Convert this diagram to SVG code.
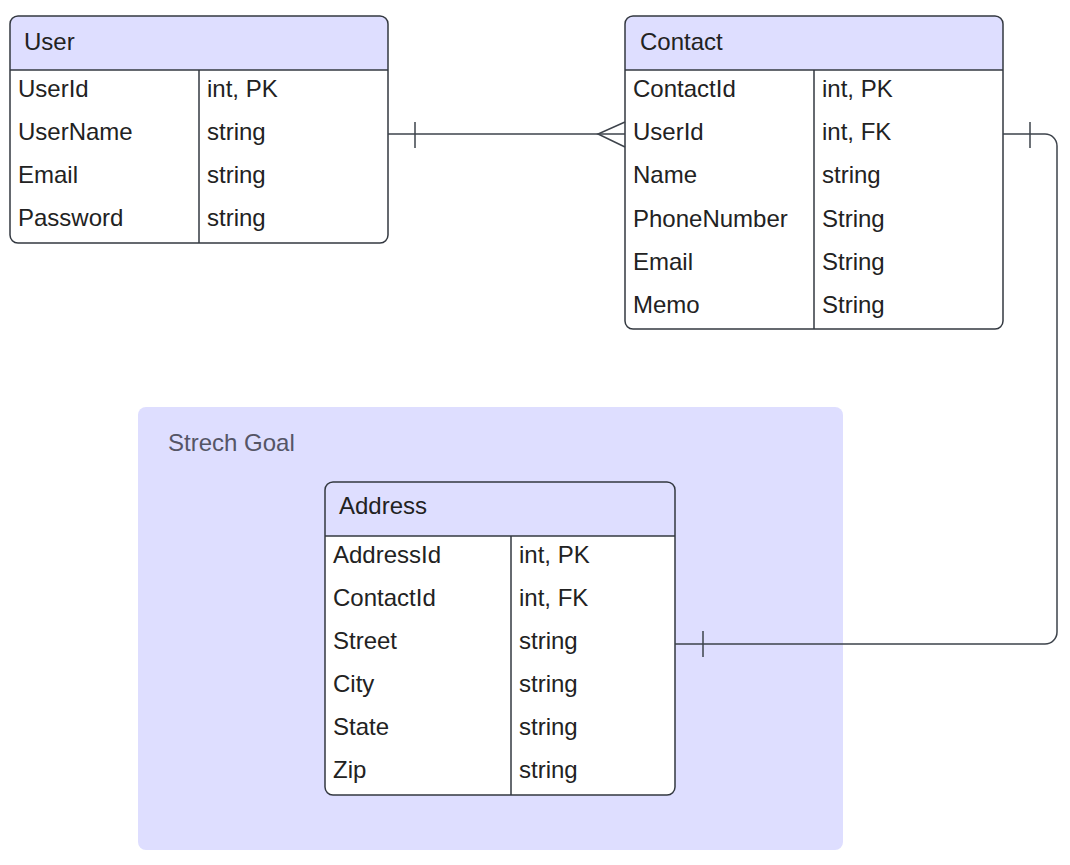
<svg xmlns="http://www.w3.org/2000/svg" width="1070" height="865" viewBox="0 0 1070 865">
<style>
.hdr{fill:#dedeff;}
.box{fill:none;stroke:#333840;stroke-width:1.5;}
.body{fill:#ffffff;}
.ln{stroke:#333840;stroke-width:1.5;fill:none;}
.t{font-family:"Liberation Sans",Arial,sans-serif;font-size:24px;fill:#222222;}
.g{font-family:"Liberation Sans",Arial,sans-serif;font-size:24px;fill:#555566;}
.con{stroke:#3d434b;stroke-width:1.5;fill:none;}
</style>
<rect width="1070" height="865" fill="#ffffff"/>
<g id="group-stretch">
<rect x="138" y="407" width="705" height="443" rx="8" fill="#dedeff"/>
<text class="g" x="168" y="451">Strech Goal</text>
</g>
<g id="node-user">
<path class="hdr" d="M10,70 V24 a8,8 0 0 1 8,-8 H380 a8,8 0 0 1 8,8 V70 Z"/>
<path class="body" d="M10,70 H388 V235 a8,8 0 0 1 -8,8 H18 a8,8 0 0 1 -8,-8 Z"/>
<rect class="box" x="10" y="16" width="378" height="227" rx="8"/>
<line class="ln" x1="10" y1="70" x2="388" y2="70"/>
<line class="ln" x1="199" y1="70" x2="199" y2="243"/>
<text class="t" x="24" y="50">User</text>
<text class="t" x="18" y="97">UserId</text><text class="t" x="207" y="97">int, PK</text>
<text class="t" x="18" y="140">UserName</text><text class="t" x="207" y="140">string</text>
<text class="t" x="18" y="183">Email</text><text class="t" x="207" y="183">string</text>
<text class="t" x="18" y="226">Password</text><text class="t" x="207" y="226">string</text>
</g>
<g id="node-contact">
<path class="hdr" d="M625,70 V24 a8,8 0 0 1 8,-8 H995 a8,8 0 0 1 8,8 V70 Z"/>
<path class="body" d="M625,70 H1003 V321 a8,8 0 0 1 -8,8 H633 a8,8 0 0 1 -8,-8 Z"/>
<rect class="box" x="625" y="16" width="378" height="313" rx="8"/>
<line class="ln" x1="625" y1="70" x2="1003" y2="70"/>
<line class="ln" x1="814" y1="70" x2="814" y2="329"/>
<text class="t" x="640" y="50">Contact</text>
<text class="t" x="633" y="97">ContactId</text><text class="t" x="822" y="97">int, PK</text>
<text class="t" x="633" y="140">UserId</text><text class="t" x="822" y="140">int, FK</text>
<text class="t" x="633" y="183">Name</text><text class="t" x="822" y="183">string</text>
<text class="t" x="633" y="227">PhoneNumber</text><text class="t" x="822" y="227">String</text>
<text class="t" x="633" y="270">Email</text><text class="t" x="822" y="270">String</text>
<text class="t" x="633" y="313">Memo</text><text class="t" x="822" y="313">String</text>
</g>
<g id="node-address">
<path class="hdr" d="M325,536 V490 a8,8 0 0 1 8,-8 H667 a8,8 0 0 1 8,8 V536 Z"/>
<path class="body" d="M325,536 H675 V787 a8,8 0 0 1 -8,8 H333 a8,8 0 0 1 -8,-8 Z"/>
<rect class="box" x="325" y="482" width="350" height="313" rx="8"/>
<line class="ln" x1="325" y1="536" x2="675" y2="536"/>
<line class="ln" x1="511" y1="536" x2="511" y2="795"/>
<text class="t" x="339" y="514">Address</text>
<text class="t" x="333" y="563">AddressId</text><text class="t" x="519" y="563">int, PK</text>
<text class="t" x="333" y="606">ContactId</text><text class="t" x="519" y="606">int, FK</text>
<text class="t" x="333" y="649">Street</text><text class="t" x="519" y="649">string</text>
<text class="t" x="333" y="692">City</text><text class="t" x="519" y="692">string</text>
<text class="t" x="333" y="735">State</text><text class="t" x="519" y="735">string</text>
<text class="t" x="333" y="778">Zip</text><text class="t" x="519" y="778">string</text>
</g>
<g id="connectors">
<path class="con" d="M388,134 H625"/>
<path class="con" d="M415,122 V148"/>
<path class="con" d="M625,122 L598,134 L625,147"/>
<path class="con" d="M1003,134 H1045 a12,12 0 0 1 12,12 V632 a12,12 0 0 1 -12,12 H675"/>
<path class="con" d="M1030,122 V148"/>
<path class="con" d="M703,631 V657"/>
</g>
</svg>
